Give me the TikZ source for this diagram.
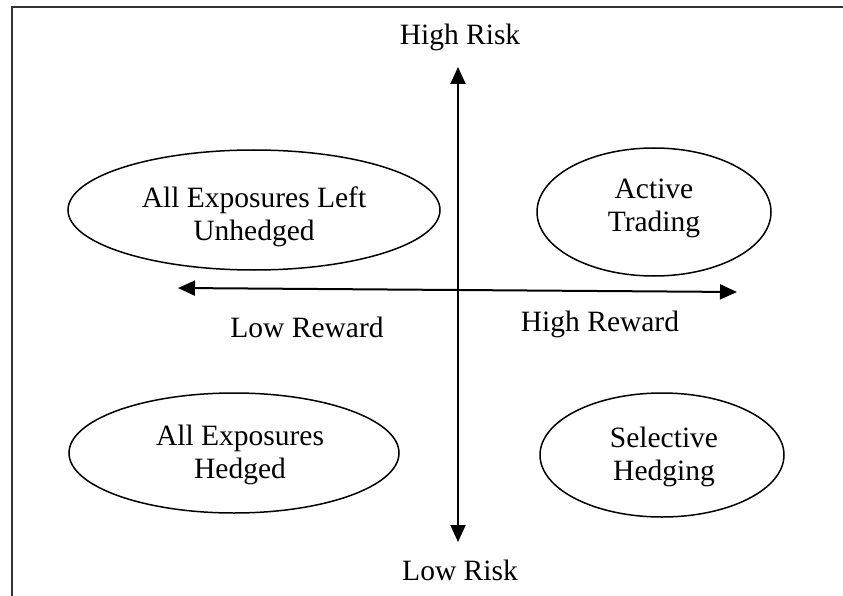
\documentclass[tikz,border=0pt]{standalone}
\usepackage{fontspec}
\setmainfont{Liberation Serif}
\usetikzlibrary{arrows.meta,shapes.geometric}
\begin{document}
\begin{tikzpicture}[x=1pt,y=-1pt,
  lbl/.style={font=\fontsize{29.5}{33}\selectfont, inner sep=0pt, align=center, text=black},
  oval/.style={draw, line width=1.5pt, ellipse, inner sep=0pt},
  axis/.style={line width=2pt, {Triangle[length=17pt,width=15pt]}-{Triangle[length=17pt,width=15pt]}}]
\useasboundingbox (0,0) rectangle (843,596);
% frame
\coordinate (fTR) at (843,7);
\coordinate (fTL) at (12,7);
\coordinate (fBL) at (12,596);
\draw[line width=1.5pt, black!80] (fTR) -- (fTL) -- (fBL);
% ellipses
\node[oval, minimum width=372pt, minimum height=120pt] (tl) at (254,210) {};
\node[lbl] (tlt) at (254,217) {All Exposures Left\\Unhedged};
\node[oval, minimum width=234pt, minimum height=128pt] (tr) at (654,212) {};
\node[lbl] (trt) at (654,208) {Active\\Trading};
\node[oval, minimum width=330pt, minimum height=120pt] (bl) at (234,453) {};
\node[lbl] (blt) at (240,455) {All Exposures\\Hedged};
\node[oval, minimum width=244pt, minimum height=124pt] (br) at (662,455) {};
\node[lbl] (brt) at (664,457) {Selective\\Hedging};
% axes
\coordinate (vt) at (458,67);
\coordinate (vb) at (458,542);
\coordinate (hl) at (178,288);
\coordinate (hr) at (737,292);
\draw[axis] (vb) -- (vt);
\draw[axis] (hl) -- (hr);
% labels
\node[lbl] (hirisk) at (460,37) {High Risk};
\node[lbl] (lorisk) at (460,570) {Low Risk};
\node[lbl] (lorew) at (307,327) {Low Reward};
\node[lbl] (hirew) at (600,324) {High Reward};
\end{tikzpicture}
\end{document}
